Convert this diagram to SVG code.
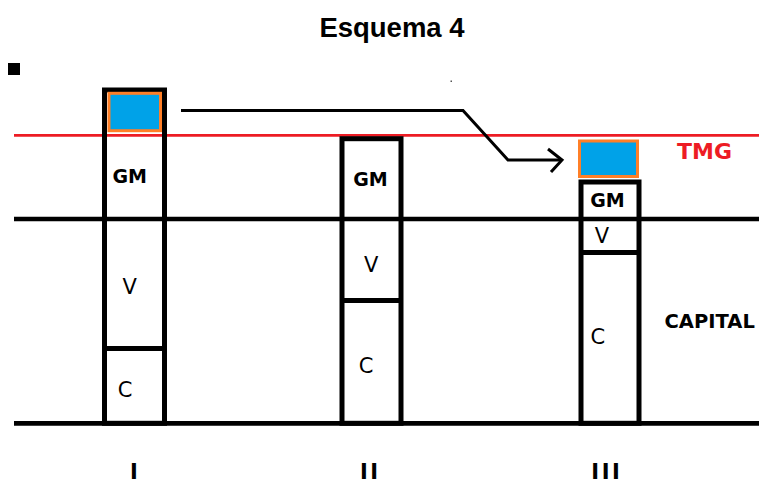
<svg xmlns="http://www.w3.org/2000/svg" width="759" height="485" viewBox="0 0 759 485">
<style>
.box{fill:none;stroke:#000;stroke-width:5}
.div{stroke:#000;stroke-width:5}
.gm{font-family:"DejaVu Sans",sans-serif;font-weight:bold;font-size:19px;fill:#000;text-anchor:middle}
.vc{font-family:"DejaVu Sans",sans-serif;font-size:21px;fill:#000;text-anchor:middle}
.lbl{font-family:"DejaVu Sans",sans-serif;font-weight:bold;fill:#000;text-anchor:middle}
.rom{font-family:"DejaVu Sans",sans-serif;font-weight:bold;font-size:21px;fill:#000;text-anchor:middle;letter-spacing:2.5px}
.blue{fill:#00A2E8;stroke:#FF7F27;stroke-width:3}
.conn{fill:none;stroke:#000;stroke-width:3}
</style>
<rect width="759" height="485" fill="#fff"/>
<text x="392" y="36.7" font-family="Liberation Sans, Arial, sans-serif" font-weight="bold" font-size="27.5" text-anchor="middle">Esquema 4</text>
<rect x="8" y="63" width="12" height="12" fill="#000"/>
<rect x="450.5" y="80.5" width="1.5" height="1.5" fill="#555"/>
<g id="axes">
<line x1="14" y1="135.3" x2="759" y2="135.3" stroke="#ED1C24" stroke-width="2.7"/>
<line x1="14" y1="219" x2="759" y2="219" stroke="#000" stroke-width="4.4"/>
<line x1="14" y1="423.3" x2="759" y2="423.3" stroke="#000" stroke-width="4.8"/>
</g>
<g id="boxI">
<rect class="box" x="104.5" y="90" width="60" height="333.3"/>
<line class="div" x1="104.5" y1="348.5" x2="164.5" y2="348.5"/>
<text class="gm" x="129.7" y="183.3">GM</text>
<text class="vc" x="129.8" y="294">V</text>
<text class="vc" x="125" y="397.3">C</text>
</g>
<g id="blueI">
<rect class="blue" x="109" y="93.3" width="51.5" height="37.4"/>
</g>
<g id="boxII">
<rect class="box" x="342" y="138.7" width="59" height="284.6"/>
<line class="div" x1="342" y1="300.5" x2="401" y2="300.5"/>
<text class="gm" x="370.5" y="186">GM</text>
<text class="vc" x="371.3" y="271.7">V</text>
<text class="vc" x="366" y="372.7">C</text>
</g>
<g id="boxIII">
<rect class="box" x="581" y="182" width="58" height="241.3"/>
<line class="div" x1="581" y1="252.5" x2="639" y2="252.5"/>
<text class="gm" x="607.5" y="206.7">GM</text>
<text class="vc" x="602" y="242.7">V</text>
<text class="vc" x="597.8" y="344">C</text>
</g>
<g id="blueIII">
<rect class="blue" x="579.5" y="141" width="58" height="35.5"/>
</g>
<g id="connectors">
<polyline class="conn" points="181,110.5 463,110.5 508,160 561,160"/>
<polyline class="conn" points="548,149 562,160 551,172"/>
</g>
<g id="labels">
<text x="704.5" y="159.3" font-family="DejaVu Sans, sans-serif" font-weight="bold" font-size="22" fill="#ED1C24" text-anchor="middle">TMG</text>
<text class="lbl" x="709.7" y="327.7" font-size="19.5">CAPITAL</text>
<text class="rom" x="135.2" y="479">I</text>
<text class="rom" x="370.2" y="479">II</text>
<text class="rom" x="606.8" y="479">III</text>
</g>
</svg>
